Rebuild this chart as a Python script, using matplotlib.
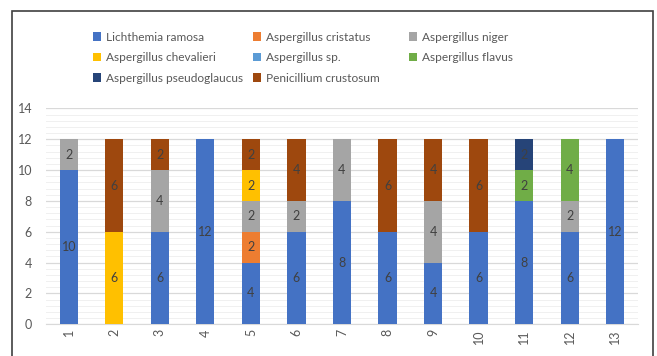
import matplotlib.pyplot as plt
from matplotlib.patches import Rectangle
from matplotlib.ticker import MultipleLocator
import numpy as np

plt.rcParams['font.family'] = ['Lato', 'DejaVu Sans']

# samples 1..13
samples = [str(i) for i in range(1, 14)]

# counts per species, stacked bottom to top in this order
lichthemia_ramosa = [10, 0, 6, 12, 4, 6, 8, 6, 4, 6, 8, 6, 12]
aspergillus_cristatus = [0, 0, 0, 0, 2, 0, 0, 0, 0, 0, 0, 0, 0]
aspergillus_niger = [2, 0, 4, 0, 2, 2, 4, 0, 4, 0, 0, 2, 0]
aspergillus_chevalieri = [0, 6, 0, 0, 2, 0, 0, 0, 0, 0, 0, 0, 0]
aspergillus_sp = [0, 0, 0, 0, 0, 0, 0, 0, 0, 0, 0, 0, 0]
aspergillus_flavus = [0, 0, 0, 0, 0, 0, 0, 0, 0, 0, 2, 4, 0]
aspergillus_pseudoglaucus = [0, 0, 0, 0, 0, 0, 0, 0, 0, 0, 2, 0, 0]
penicillium_crustosum = [0, 6, 2, 0, 2, 4, 0, 6, 4, 6, 0, 0, 0]

series = [
    ("Lichthemia ramosa", lichthemia_ramosa, "#4472C4"),
    ("Aspergillus cristatus", aspergillus_cristatus, "#ED7D31"),
    ("Aspergillus niger", aspergillus_niger, "#A5A5A5"),
    ("Aspergillus chevalieri", aspergillus_chevalieri, "#FFC000"),
    ("Aspergillus sp.", aspergillus_sp, "#5B9BD5"),
    ("Aspergillus flavus", aspergillus_flavus, "#70AD47"),
    ("Aspergillus pseudoglaucus", aspergillus_pseudoglaucus, "#264478"),
    ("Penicillium crustosum", penicillium_crustosum, "#9E480E"),
]

fig = plt.figure(figsize=(6.57, 3.56), dpi=100)
ax = fig.add_axes([0.070, 0.089, 0.901, 0.6065])

x = np.arange(len(samples))
bottom = np.zeros(len(samples))
for name, vals, color in series:
    vals = np.array(vals, dtype=float)
    bars = ax.bar(x, vals, 0.4, bottom=bottom, color=color, label=name, zorder=3)
    labels = [f"{int(v)}" if v > 0 else "" for v in vals]
    ax.bar_label(bars, labels=labels, label_type='center', fontsize=9, color='#404040')
    bottom += vals

ax.set_xlim(-0.5, len(samples) - 0.5)
ax.set_ylim(0, 14)
ax.set_xticks(x)
ax.set_xticklabels(samples, rotation=90)
ax.yaxis.set_major_locator(MultipleLocator(2))
ax.yaxis.set_minor_locator(MultipleLocator(0.4))
ax.grid(axis='y', which='major', color='#D9D9D9', linewidth=0.9, zorder=0)
ax.grid(axis='y', which='minor', color='#F0F0F0', linewidth=0.7, zorder=0)
ax.tick_params(axis='both', which='both', length=0, labelsize=9, labelcolor='#595959')
ax.tick_params(axis='y', pad=10)
for side in ['top', 'right', 'left']:
    ax.spines[side].set_visible(False)
ax.spines['bottom'].set_color('#D9D9D9')

# legend across the top: three equal-width columns, filled row by row
handles, names = ax.get_legend_handles_labels()
col_x = [93, 253, 409]
for c in range(3):
    idx = list(range(c, len(handles), 3))
    fig.legend([handles[i] for i in idx], [names[i] for i in idx], ncol=1,
               loc='upper left', bbox_to_anchor=(col_x[c] / 657, 0.911),
               frameon=False, fontsize=8.6, labelcolor='#595959', handlelength=0.7,
               handleheight=0.7, handletextpad=0.4, labelspacing=0.8,
               borderpad=0, borderaxespad=0)

# outer frame
fig.patches.append(Rectangle((12 / 657, -0.01), 641 / 657, 1 - 10.5 / 356 + 0.01,
                             transform=fig.transFigure, fill=False,
                             edgecolor='#404040', linewidth=1.2))

plt.savefig("out.png", dpi=100)
